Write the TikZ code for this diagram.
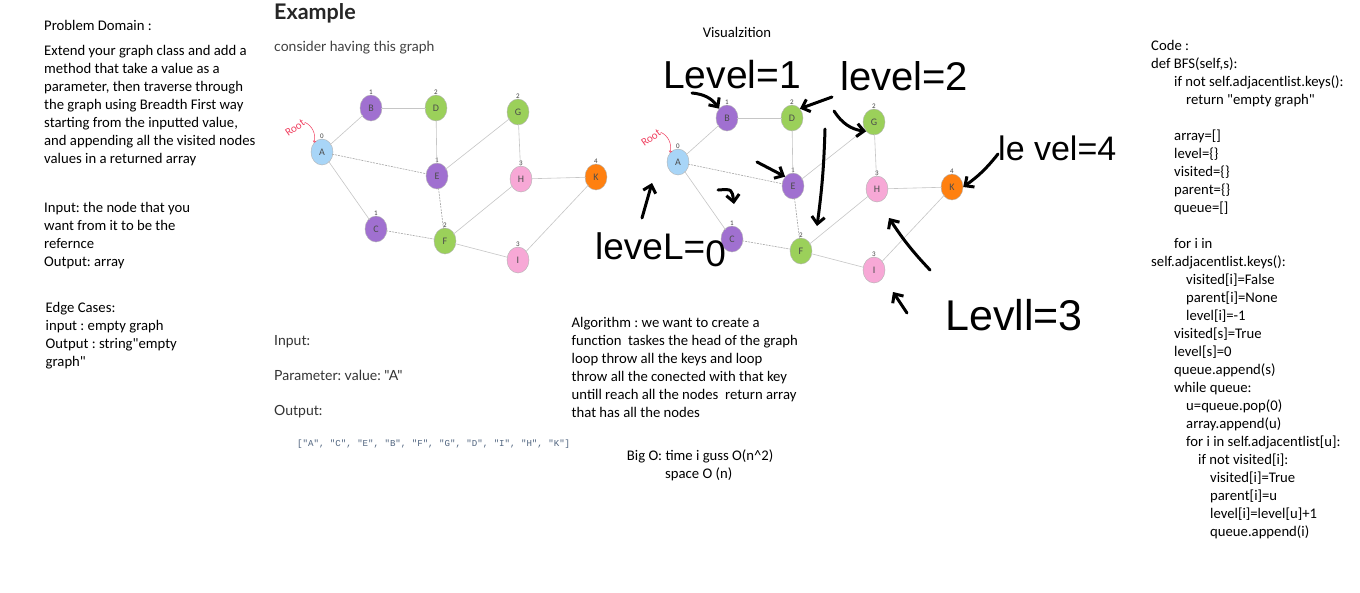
\documentclass[tikz,border=0pt]{standalone}
\usepackage{fontspec}
\setmainfont{Carlito}[Ligatures=TeXOff]
\newfontfamily\latofont{Lato}[Ligatures=TeXOff]
\newfontfamily\handfont{Liberation Sans}
\setmonofont{Liberation Mono}
\usetikzlibrary{arrows.meta,positioning,shapes.geometric}
\frenchspacing

\definecolor{vblue}{HTML}{A8D5F7}
\definecolor{vpurple}{HTML}{A070D0}
\definecolor{vgreen}{HTML}{9BD05A}
\definecolor{vpink}{HTML}{F7A8D6}
\definecolor{vorange}{HTML}{FF8010}
\definecolor{rootred}{HTML}{F04060}
\definecolor{webgray}{HTML}{333333}
\definecolor{arraygray}{HTML}{50647F}

\newcommand{\tabin}[1]{\hspace*{#1pt}}

% one copy of the example graph
\newcommand{\bfsgraph}{%
  \node[vertex, fill=vblue,   label={[lvlnum]above:0}] (A) at (322,152) {A};
  \node[vertex, fill=vpurple, label={[lvlnum]above:1}] (B) at (371,108) {B};
  \node[vertex, fill=vgreen,  label={[lvlnum]above:2}] (D) at (436,108) {D};
  \node[vertex, fill=vgreen,  label={[lvlnum]above:2}] (G) at (518,112) {G};
  \node[vertex, fill=vpurple, label={[lvlnum]above:1}] (E) at (437,176) {E};
  \node[vertex, fill=vpink,   label={[lvlnum]above:3}] (H) at (521,179) {H};
  \node[vertex, fill=vorange, label={[lvlnum]above:4}] (K) at (596,177) {K};
  \node[vertex, fill=vpurple, label={[lvlnum]above:1}] (C) at (376,229) {C};
  \node[vertex, fill=vgreen,  label={[lvlnum]above:2}] (F) at (445,241) {F};
  \node[vertex, fill=vpink,   label={[lvlnum]above:3}] (I) at (518,260) {I};
  \draw[edge] (A) -- (B);
  \draw[edge] (B) -- (D);
  \draw[edge] (D) -- (E);
  \draw[edge] (E) -- (G);
  \draw[edge] (G) -- (H);
  \draw[edge] (H) -- (K);
  \draw[edge] (A) -- (C);
  \draw[edge] (F) -- (H);
  \draw[edge] (F) -- (I);
  \draw[edge] (I) -- (K);
  \draw[dashedge] (A) -- (E);
  \draw[dashedge] (E) -- (F);
  \draw[dashedge] (C) -- (F);
  \node[rootlbl] (root) at (295,128) {Root};
  \draw[rootarrow] (root.east) to[bend left=40] (A.north west);
}

\tikzset{
  vertex/.style={ellipse, draw=gray!60, line width=0.4pt, minimum width=22pt,
    minimum height=26pt, inner sep=0pt, text=black!70,
    font=\fontsize{10}{10}\selectfont},
  lvlnum/.style={font=\fontsize{7}{7}\selectfont, text=black!75, inner sep=0.5pt},
  edge/.style={draw=gray!45, line width=0.6pt, shorten <=-1pt, shorten >=-1pt},
  dashedge/.style={edge, draw=gray!70, dash pattern=on 2pt off 1pt},
  rootlbl/.style={text=rootred, rotate=35, inner sep=0pt,
    font=\fontsize{11}{11}\selectfont},
  rootarrow/.style={draw=rootred, line width=0.5pt, shorten <=1pt,
    -{Straight Barb[length=1.5pt,width=3pt]}},
  bodytext/.style={anchor=north west, align=left, inner sep=0pt,
    font=\fontsize{14.7}{18}\selectfont},
  lineof/.style={anchor=base west, inner sep=0pt, font=\fontsize{14.7}{18}\selectfont},
  webtext/.style={anchor=base west, inner sep=0pt, text=webgray,
    font=\latofont\fontsize{14}{16}\selectfont},
  hand/.style={anchor=base west, inner sep=0pt, font=\handfont\fontsize{#1}{#1}\selectfont},
  handarrow/.style={line width=3pt, line cap=round, line join=round,
    -{Straight Barb[length=7pt,width=13pt]}},
}

\begin{document}
\begin{tikzpicture}[x=1pt, y=-1pt]
\fill[white] (0,0) rectangle (1360,592);
\useasboundingbox (0,0) rectangle (1360,592);

% left column: problem statement
\node[lineof] (pdom) at (44,30) {Problem Domain :};
\node[bodytext] (task) at (44,44.7) {Extend your graph class and add a\\
method that take a value as a\\
parameter, then traverse through\\
the graph using Breadth First way\\
starting from the inputted value,\\
and appending all the visited nodes\\
values in a returned array};
\node[bodytext] (inout) at (44,201.7) {Input: the node that you\\
want from it to be the\\
refernce\\
Output: array};
\node[bodytext] (edges) at (45.5,301.7) {Edge Cases:\\
input : empty graph\\
Output : string"empty\\
graph"};

% example column
\node[webtext, text=black!85, font=\latofont\bfseries\fontsize{21.5}{22}\selectfont] (exhead) at (274,19) {Example};
\node[webtext, text=black!75] (consider) at (274,51.5) {consider having this graph};
\node[webtext] (input) at (274,345) {Input:};
\node[webtext] (param) at (274,380) {Parameter: value: "A"};
\node[webtext] (output) at (274,415) {Output:};
\node[anchor=base west, inner sep=0pt, text=arraygray,
  font=\ttfamily\fontsize{9.1}{10}\selectfont] (result) at (297,446)
  {["A", "C", "E", "B", "F", "G", "D", "I", "H", "K"]};

\begin{scope}[name prefix=g1-]
  \bfsgraph
\end{scope}

% visualisation of the levels
\node[lineof, anchor=base] (vistitle) at (737,37) {Visualzition};
\begin{scope}[shift={(356,10)}, name prefix=g2-]
  \bfsgraph
\end{scope}

\node[hand=39] (lv1) at (663,88) {Level=1};
\node[hand=40] (lv2) at (840,90) {level=2};
\node[hand=34] (lv4) at (998,160) {le vel=4};
\node[hand=37] (lv0) at (595,259) {leveL=\raisebox{-7pt}{0}};
\node[hand=43] (lv3) at (945,330) {Levll=3};

\coordinate (s1) at (692,93);
\coordinate (s2) at (832,97);
\coordinate (s3) at (834,111);
\coordinate (s4) at (825,129);
\coordinate (e4) at (817,226);
\coordinate (s5) at (757,162);
\coordinate (s6) at (642,218);
\coordinate (e6) at (652,183);
\coordinate (s7) at (718,190);
\coordinate (e7) at (734,204);
\coordinate (s8) at (998,154);
\coordinate (s9) at (930,270);
\coordinate (e9) at (889,218);
\coordinate (s10) at (907,313);
\coordinate (e10) at (893,292);

\draw[handarrow] (s1) to[bend left=25] (g2-B.north west);
\draw[handarrow] (s2) -- (g2-D.north east);
\draw[handarrow] (s3) to[bend right=25] (g2-G.south west);
\draw[handarrow] (s4) to[bend left=3] (e4);
\draw[handarrow] (s5) -- (g2-E.north west);
\draw[handarrow] (s6) -- (e6);
\draw[handarrow] (s7) .. controls (732,189) .. (e7);
\draw[handarrow] (s8) to[bend left=8] (g2-K.east);
\draw[handarrow] (s9) to[bend left=5] (e9);
\draw[handarrow] (s10) -- (e10);

% algorithm and complexity
\node[bodytext] (algo) at (571.5,316.7) {Algorithm : we want to create a\\
function\ \ taskes the head of the graph\\
loop throw all the keys and loop\\
throw all the conected with that key\\
untill reach all the nodes\ \ return array\\
that has all the nodes};
\node[lineof] (bigo) at (626.7,460) {Big O: time i guss O(n\textasciicircum2)};
\node[lineof] (space) at (665,478) {space O (n)};

% right column: the code
\node[bodytext] (code) at (1151,39.7) {Code :\\
def BFS(self,s):\\
\tabin{23}if not self.adjacentlist.keys():\\
\tabin{35}return "empty graph"\\
\mbox{}\\
\tabin{23}array=[]\\
\tabin{23}level=\{\}\\
\tabin{23}visited=\{\}\\
\tabin{23}parent=\{\}\\
\tabin{23}queue=[]\\
\mbox{}\\
\tabin{23}for i in\\
self.adjacentlist.keys():\\
\tabin{35}visited[i]=False\\
\tabin{35}parent[i]=None\\
\tabin{35}level[i]=-1\\
\tabin{23}visited[s]=True\\
\tabin{23}level[s]=0\\
\tabin{23}queue.append(s)\\
\tabin{23}while queue:\\
\tabin{35}u=queue.pop(0)\\
\tabin{35}array.append(u)\\
\tabin{35}for i in self.adjacentlist[u]:\\
\tabin{47}if not visited[i]:\\
\tabin{59}visited[i]=True\\
\tabin{59}parent[i]=u\\
\tabin{59}level[i]=level[u]+1\\
\tabin{59}queue.append(i)};
\end{tikzpicture}
\end{document}
